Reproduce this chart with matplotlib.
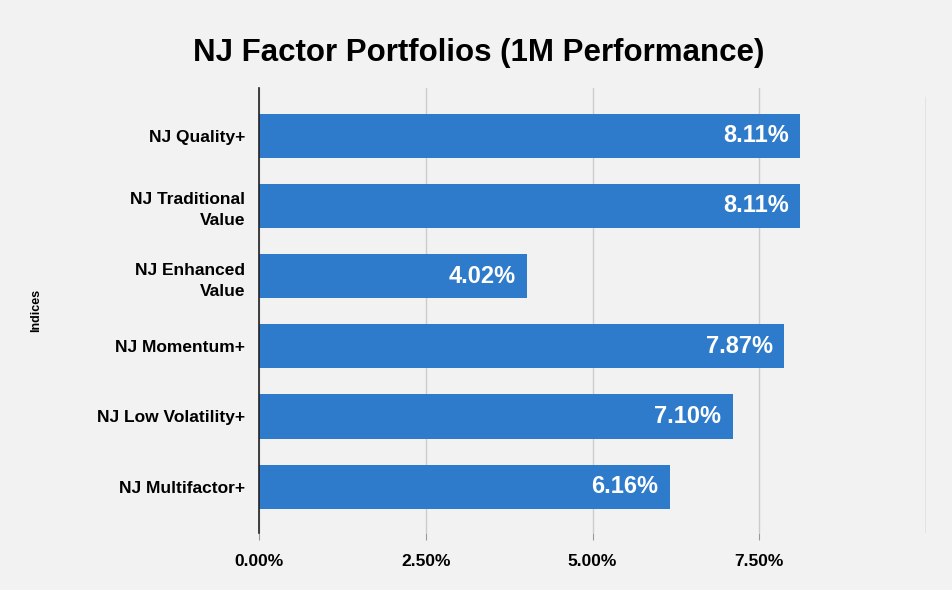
import matplotlib.pyplot as plt

plt.rcParams['font.family'] = ['Liberation Sans', 'DejaVu Sans']

categories = ["NJ Quality+", "NJ Traditional\nValue", "NJ Enhanced\nValue",
              "NJ Momentum+", "NJ Low Volatility+", "NJ Multifactor+"]
values = [8.11, 8.11, 4.02, 7.87, 7.10, 6.16]
xticks = [0, 2.5, 5, 7.5]
xtick_labels = ["0.00%", "2.50%", "5.00%", "7.50%"]

bg = "#f2f2f2"
bar_color = "#2f7bcb"

fig = plt.figure(figsize=(9.53, 5.90), dpi=100, facecolor=bg)
ax = fig.add_axes([259 / 953, 57 / 590, 667 / 953, 445 / 590], facecolor=bg)

ypos = list(range(len(categories)))
ax.barh(ypos, values, height=0.63, color=bar_color, zorder=3)
for y, v in zip(ypos, values):
    ax.text(v - 0.17, y, f"{v:.2f}%", color="white", fontsize=17,
            fontweight="bold", ha="right", va="center", zorder=4)

ax.set_xlim(0, 10)
ax.set_ylim(5.66, -0.68)
ax.set_yticks(ypos)
ax.set_yticklabels(categories, fontsize=12.5, fontweight="bold", ha="right",
                   multialignment="right", linespacing=1.5)
ax.set_xticks(xticks)
ax.set_xticklabels(xtick_labels, fontsize=12.5, fontweight="bold")
ax.tick_params(axis="y", length=0, pad=10)
ax.tick_params(axis="x", length=5, color="#999999", pad=10)
ax.grid(axis="x", color="#cccccc", linewidth=1, zorder=0)
ax.axvline(10, color="#aaaaaa", linewidth=1, ymax=0.98, zorder=0)
for s in ["top", "right", "bottom"]:
    ax.spines[s].set_visible(False)
ax.spines["left"].set_color("#222222")
ax.spines["left"].set_linewidth(1.2)
ax.spines["left"].set_zorder(5)

ax.set_ylabel("Indices", fontsize=9, fontweight="bold")
ax.yaxis.set_label_coords(-0.325, 0.5)

fig.text(0.502, 0.91, "NJ Factor Portfolios (1M Performance)", fontsize=22.5,
         fontweight="bold", ha="center", va="center")

fig.savefig("out.png", dpi=100, facecolor=bg)
